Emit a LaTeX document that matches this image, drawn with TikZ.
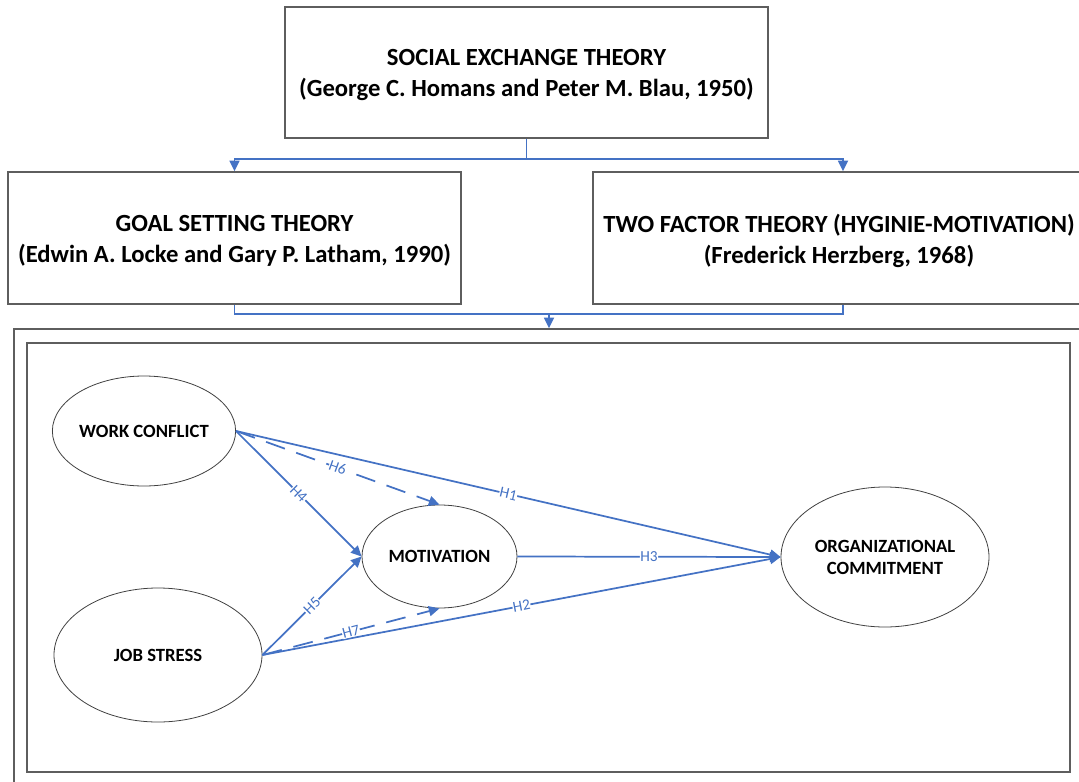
\documentclass[tikz,border=0pt]{standalone}
\usepackage{fontspec}
\setmainfont{Carlito}
\usetikzlibrary{arrows.meta,shapes.geometric}
\definecolor{lnblue}{HTML}{4472C4}
\definecolor{boxgray}{HTML}{5E5E5E}
\definecolor{ellgray}{HTML}{404040}
\tikzset{
  theorybox/.style={draw=boxgray, line width=1.1pt, inner sep=0pt},
  theorytext/.style={inner sep=0pt, align=center,
    font=\fontsize{18.5}{23.2}\selectfont\bfseries},
  frame/.style={draw=boxgray, line width=1.1pt, inner sep=0pt},
  construct/.style={ellipse, draw=ellgray, line width=0.6pt, inner sep=0pt, align=center,
    font=\fontsize{14}{16.5}\selectfont\bfseries},
  link/.style={draw=lnblue, line width=1.3pt, -{Triangle[length=8pt,width=7.5pt]}},
  dashlink/.style={link, dash pattern=on 15pt off 9pt},
  hyp/.style={midway, sloped, fill=white, inner sep=0.3pt, text=lnblue,
    font=\fontsize{11.5}{12}\selectfont},
}
\begin{document}
\begin{tikzpicture}[x=0.75pt,y=-0.75pt]
\useasboundingbox (0,0) rectangle (1079,782);
\clip (0,0) rectangle (1079,782);

% theory boxes
\node[theorybox, minimum width=362.25pt, minimum height=98.25pt] (set) at (526.5,72.5) {};
\node[theorybox, minimum width=339.75pt, minimum height=99pt] (gst) at (234.5,238) {};
\node[theorybox, minimum width=375pt, minimum height=99pt] (tft) at (843,238) {};
\node[theorytext] (settext) at ([yshift=-2.2pt]set.center)
  {SOCIAL EXCHANGE THEORY\\(George C. Homans and Peter M. Blau, 1950)};
\node[theorytext] (gsttext) at ([yshift=-2.2pt]gst.center)
  {GOAL SETTING THEORY\\(Edwin A. Locke and Gary P. Latham, 1990)};
\node[theorytext] (tfttext) at ([xshift=-3pt,yshift=-2.2pt]tft.center)
  {TWO FACTOR THEORY (HYGINIE-MOTIVATION)\\(Frederick Herzberg, 1968)};

% frames
\node[frame, minimum width=814.5pt, minimum height=353.25pt] (outer) at (557,564.5) {};
\node[frame, minimum width=782.25pt, minimum height=321.75pt] (inner) at (548.5,557.5) {};

% top connectors
\coordinate (j1) at (526.5,159);
\draw[link] (set.south) -- (j1) -| (gst.north);
\draw[link] (j1) -| (tft.north);
\coordinate (j2) at (549,314);
\draw[draw=lnblue, line width=1.3pt] (gst.south) |- (j2) -| (tft.south);
\draw[link] (j2) -- (j2 |- outer.north);

% constructs
\node[construct, minimum width=135pt, minimum height=82.5pt] (wc) at (144,431) {WORK CONFLICT};
\node[construct, minimum width=156pt, minimum height=100.5pt] (js) at (158,655) {JOB STRESS};
\node[construct, minimum width=116.25pt, minimum height=77.25pt] (mot) at (439.5,556.5) {MOTIVATION};
\node[construct, minimum width=156pt, minimum height=105pt] (oc) at (885,557) {ORGANIZATIONAL\\COMMITMENT};

% hypotheses
\draw[link] (wc.east) -- (oc.west) node[hyp] {H1};
\draw[link] (js.east) -- (oc.west) node[hyp] {H2};
\draw[link] (mot.east) -- (oc.west) node[hyp] {H3};
\draw[link] (wc.east) -- (mot.west) node[hyp] {H4};
\draw[link] (js.east) -- (mot.west) node[hyp] {H5};
\draw[dashlink] (wc.east) -- (mot.north) node[hyp] {H6};
\draw[dashlink] (js.east) -- (mot.south) node[hyp] {H7};
\end{tikzpicture}
\end{document}
